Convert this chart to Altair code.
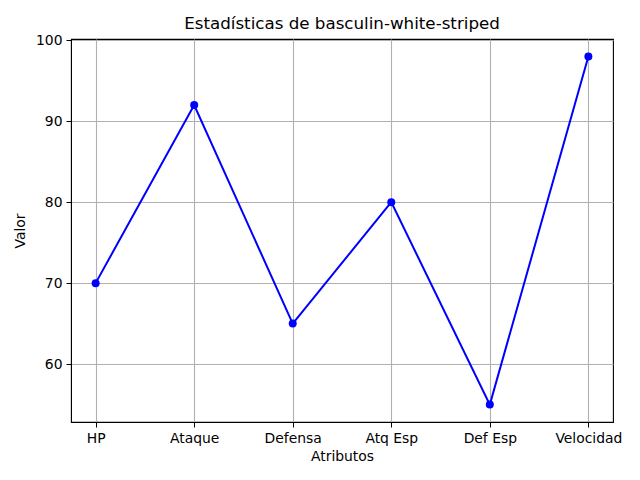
import altair as alt
import pandas as pd

atributos = ["HP", "Ataque", "Defensa", "Atq Esp", "Def Esp", "Velocidad"]
valores = [70, 92, 65, 80, 55, 98]

df = pd.DataFrame({"atributo": atributos, "valor": valores})

font = "DejaVu Sans"

x = alt.X(
    "atributo:N",
    sort=atributos,
    title="Atributos",
    scale=alt.Scale(type="point", padding=0.25),
    axis=alt.Axis(labelAngle=0, tickSize=5, tickColor="black", domainColor="black",
                  labelPadding=4, titlePadding=5, gridColor="#b0b0b0", gridWidth=1.1),
)
y = alt.Y(
    "valor:Q",
    title="Valor",
    scale=alt.Scale(domain=[52.85, 100.15], nice=False, zero=False),
    axis=alt.Axis(values=[60, 70, 80, 90, 100], tickSize=5, tickColor="black",
                  domainColor="black", labelPadding=4, titlePadding=8,
                  gridColor="#b0b0b0", gridWidth=1.1),
)

line = alt.Chart(df).mark_line(color="blue", strokeWidth=2).encode(x=x, y=y)
points = alt.Chart(df).mark_point(filled=True, color="blue", size=64, opacity=1).encode(x=x, y=y)

chart = (
    (line + points)
    .properties(
        width=542,
        height=383,
        title=alt.TitleParams("Estadísticas de basculin-white-striped", fontSize=16.7,
                              font=font, fontWeight="normal", color="black", offset=8, dy=7),
        autosize=alt.AutoSizeParams(type="none"),
        padding={"left": 63, "top": 31, "right": 19, "bottom": 50},
    )
    .configure_view(stroke="black", strokeWidth=1.1)
    .configure_axis(labelFont=font, titleFont=font, labelFontSize=13.9, titleFontSize=13.9,
                    labelColor="black", titleColor="black", titleFontWeight="normal", grid=True)
)

chart.save("out.html", embed_options={"renderer": "svg", "actions": False})
